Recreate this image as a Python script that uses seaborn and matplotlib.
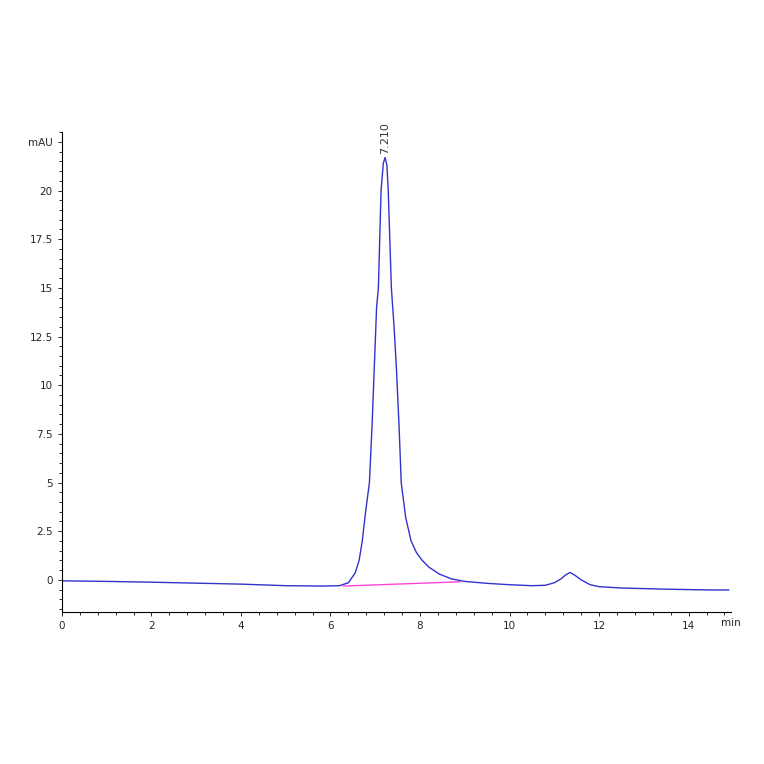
import matplotlib
matplotlib.use("Agg")
import matplotlib.pyplot as plt
import seaborn as sns
import pandas as pd
from matplotlib.ticker import MultipleLocator

time_min = [0.0, 1.0, 2.0, 3.0, 4.0, 5.0, 5.8, 6.2, 6.4, 6.55, 6.64, 6.71, 6.79, 6.87, 6.93, 6.98,
            7.03, 7.07, 7.13, 7.18, 7.22, 7.26, 7.29, 7.36, 7.42, 7.47, 7.53, 7.58, 7.68, 7.80,
            7.92, 8.05, 8.2, 8.43, 8.7, 9.0, 9.5, 10.0, 10.5, 10.8, 11.0, 11.15, 11.25, 11.35,
            11.45, 11.6, 11.8, 12.0, 12.5, 13.0, 13.5, 14.0, 14.5, 14.9]
mau = [-0.05, -0.08, -0.12, -0.17, -0.22, -0.30, -0.32, -0.30, -0.15, 0.35, 1.0, 2.0, 3.6, 5.0, 8.0, 11.0,
       14.0, 15.0, 20.0, 21.4, 21.7, 21.3, 20.0, 15.0, 13.0, 11.0, 8.0, 5.0, 3.2, 2.0,
       1.4, 1.0, 0.65, 0.3, 0.05, -0.08, -0.18, -0.25, -0.30, -0.28, -0.15, 0.05, 0.25, 0.38,
       0.25, 0.0, -0.25, -0.35, -0.42, -0.45, -0.48, -0.5, -0.52, -0.52]
int_base_t = [6.28, 8.9]
int_base_y = [-0.32, -0.10]
peak_label = "7.210"
peak_t, peak_y = 7.22, 21.7

sns.set_style("white")
fig = plt.figure(figsize=(7.64, 7.64), dpi=100)
ax = fig.add_axes([0.081, 0.199, 0.876, 0.628])
df = pd.DataFrame({"t": time_min, "y": mau})
sns.lineplot(data=df, x="t", y="y", ax=ax, color="#3333cc", lw=1.0, estimator=None, sort=False)
ax.plot(int_base_t, int_base_y, color="#ff44dd", lw=1.0)
ax.text(peak_t, peak_y + 0.2, peak_label, rotation=90, ha="center", va="bottom", fontsize=8, color="#333333")
ax.set_xlim(0, 14.95)
ax.set_ylim(-1.65, 23.0)
ax.set_xlabel(""); ax.set_ylabel("")
ax.xaxis.set_major_locator(MultipleLocator(2))
ax.xaxis.set_minor_locator(MultipleLocator(0.4))
yt = [0, 2.5, 5, 7.5, 10, 12.5, 15, 17.5, 20, 22.5]
ax.set_yticks(yt)
ax.set_yticklabels(["0", "2.5", "5", "7.5", "10", "12.5", "15", "17.5", "20", "mAU"])
ax.yaxis.set_minor_locator(MultipleLocator(0.5))
xt = [0, 2, 4, 6, 8, 10, 12, 14]
ax.set_xticks(xt)
ax.set_xticklabels([str(v) for v in xt])
for s in ["top", "right"]:
    ax.spines[s].set_visible(False)
for s in ["left", "bottom"]:
    ax.spines[s].set_color("black"); ax.spines[s].set_linewidth(0.8)
ax.tick_params(which="both", direction="out", left=True, bottom=True, labelsize=7.5, length=3, width=0.7)
ax.tick_params(which="minor", length=2)
ax.text(1.0, -0.012, "min", transform=ax.transAxes, fontsize=7.5, va="top", ha="center")
fig.savefig("out.png", dpi=100, facecolor="white")
